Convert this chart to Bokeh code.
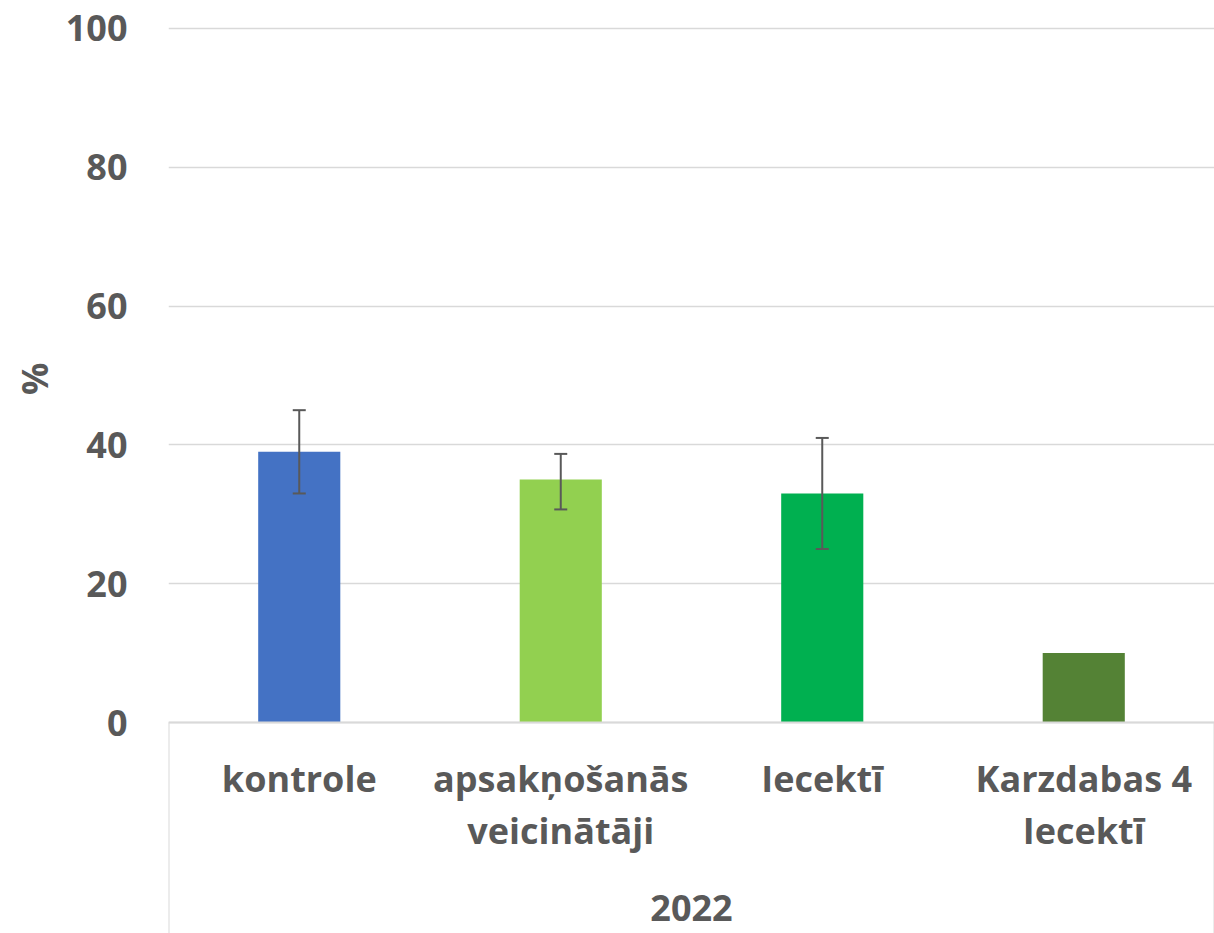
from bokeh.plotting import figure
from bokeh.models import ColumnDataSource, Range1d, FixedTicker, Whisker, TeeHead, Title
from bokeh.core.properties import value
from bokeh.embed import file_html
from bokeh.resources import INLINE

categories = ["kontrole", "apsakņošanās\nveicinātāji", "Iecektī", "Karzdabas 4\nIecektī"]
values = [39, 35, 33, 10]
err_low = [33, 30.7, 25, None]
err_high = [45, 38.7, 41, None]
colors = ["#4472C4", "#92D050", "#00B050", "#548235"]
group_label = "2022"
y_ticks = [0, 20, 40, 60, 80, 100]
y_label = "%"

FONT = "Open Sans"
TXT = "#595959"
GRID = "#D9D9D9"
Y_MIN = -30.4

n = len(categories)
xs = [i + 0.5 for i in range(n)]

p = figure(width=1214, height=933, output_backend="svg", toolbar_location=None,
           x_axis_type=None, x_range=Range1d(0, n), y_range=Range1d(Y_MIN, 101),
           min_border_left=168, min_border_right=0, min_border_top=21, min_border_bottom=0)
p.outline_line_color = None
p.background_fill_color = "white"

# y axis
p.yaxis.ticker = FixedTicker(ticks=y_ticks)
p.yaxis.axis_line_color = None
p.yaxis.major_tick_line_color = None
p.yaxis.minor_tick_line_color = None
p.yaxis.major_label_standoff = 35
p.yaxis.major_label_text_font = FONT
p.yaxis.major_label_text_font_style = "bold"
p.yaxis.major_label_text_font_size = "36px"
p.yaxis.major_label_text_color = TXT
p.ygrid.ticker = FixedTicker(ticks=y_ticks)
p.ygrid.grid_line_color = GRID
p.ygrid.grid_line_width = 1.5

# y label as a left title, placed level with the middle of the 0-100 span
p.add_layout(Title(text=y_label, align="right", offset=341, standoff=8, text_font=FONT,
                   text_font_style="bold", text_font_size="36px", text_color=TXT), "left")

# bars
src = ColumnDataSource(dict(x=xs, top=values, color=colors))
p.vbar(x="x", top="top", bottom=0, width=0.314, fill_color="color", line_color=None, source=src)

# error bars
ex = [xs[i] for i in range(n) if err_low[i] is not None]
el = [err_low[i] for i in range(n) if err_low[i] is not None]
eh = [err_high[i] for i in range(n) if err_low[i] is not None]
esrc = ColumnDataSource(dict(x=ex, lower=el, upper=eh))
w = Whisker(base="x", lower="lower", upper="upper", source=esrc, dimension="height",
            line_color="#595959", line_width=2, level="overlay",
            upper_head=TeeHead(size=13, line_color="#595959", line_width=2),
            lower_head=TeeHead(size=13, line_color="#595959", line_width=2))
p.add_layout(w)

# zero line and category separators
p.segment(x0=[0], y0=[0], x1=[n], y1=[0], line_color=GRID, line_width=2)
p.segment(x0=[0, n], y0=[0, 0], x1=[0, n], y1=[Y_MIN, Y_MIN], line_color=GRID, line_width=2)

# category labels
lx, ly, lt = [], [], []
for i, c in enumerate(categories):
    for j, line in enumerate(c.split("\n")):
        lx.append(xs[i])
        ly.append(-8.1 - j * 7.5)
        lt.append(line)
p.text(x=lx, y=ly, text=lt, text_align="center", text_baseline="middle",
       text_font=value(FONT), text_font_style="bold", text_font_size="36px", text_color=TXT)
p.text(x=[n / 2], y=[-26.7], text=[group_label], text_align="center", text_baseline="middle",
       text_font=value(FONT), text_font_style="bold", text_font_size="36px", text_color=TXT)

open("out.html", "w").write(file_html(p, INLINE))
